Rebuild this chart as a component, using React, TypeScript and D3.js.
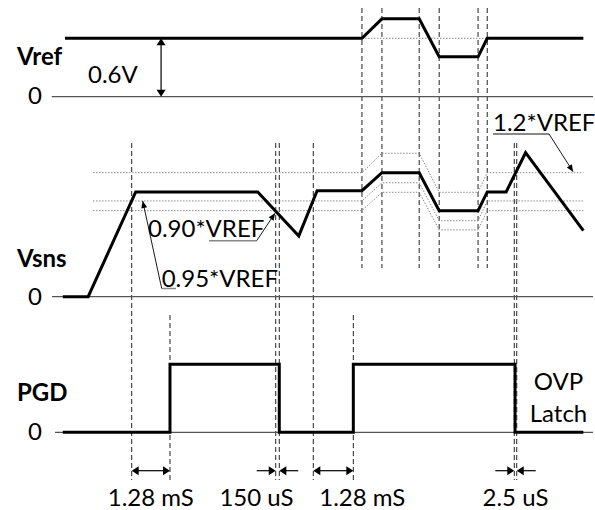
import React from "react";
import * as d3 from "d3";

// ---- data (time in arbitrary units 0..100, voltages in V) ----
const vrefTime = [2.4, 57.4, 61.1, 68.0, 71.7, 78.9, 80.6, 98.4];
const vrefValue = [0.6, 0.6, 0.8, 0.8, 0.41, 0.41, 0.6, 0.6];

const vsnsTime = [2.0, 6.7, 15.5, 38.1, 45.7, 49.1, 57.4, 61.1, 68.0, 71.7, 78.9, 80.6, 84.1, 87.7, 98.4];
const vsnsValue = [0, 0, 0.593, 0.593, 0.344, 0.6, 0.6, 0.702, 0.702, 0.487, 0.487, 0.593, 0.593, 0.815, 0.374];

const thresholdTime = [7.6, 57.4, 61.1, 68.0, 71.7, 78.9, 80.6, 98.4];
const ovp120 = [0.702, 0.702, 0.812, 0.812, 0.591, 0.591, 0.702, 0.702];
const pg95 = [0.542, 0.542, 0.645, 0.645, 0.43, 0.43, 0.542, 0.542];
const pg90 = [0.487, 0.487, 0.591, 0.591, 0.378, 0.378, 0.487, 0.487];

const pgdTime = [2.0, 21.85, 21.85, 42.09, 42.09, 55.8, 55.8, 85.75, 85.75, 98.4];
const pgdValue = [0, 0, 1, 1, 0, 0, 1, 1, 0, 0];

const topMarkers = [57.4, 61.1, 68.0, 71.7, 78.9, 80.6];
const lowerMarkers = [14.76, 41.43, 42.09, 48.39, 85.61, 86.06];
const pgdMarkers = [21.85, 55.8];

const intervalLabels = ["1.28 mS", "150 uS", "1.28 mS", "2.5 uS"];
const intervalStart = [14.76, 41.43, 48.39, 85.61];
const intervalEnd = [21.85, 42.09, 55.8, 86.06];

const W = 595;
const H = 510;
const FONT = "Lato, 'Open Sans', sans-serif";

export default function App() {
  const x = d3.scaleLinear().domain([0, 100]).range([52, 592]);
  const yRef = d3.scaleLinear().domain([0, 0.6]).range([96.7, 38.3]);
  const ySns = d3.scaleLinear().domain([0, 0.6]).range([296.7, 190.7]);
  const yPgd = d3.scaleLinear().domain([0, 1]).range([432.3, 364.3]);

  const mk = (ts: number[], vs: number[], y: d3.ScaleLinear<number, number>) =>
    d3.line<number>().x((_, i) => x(ts[i])).y((_, i) => y(vs[i]))(ts) || "";

  const thick = { fill: "none", stroke: "#000", strokeWidth: 3, strokeLinejoin: "miter" as const };
  const dotted = { fill: "none", stroke: "#8a8a8a", strokeWidth: 1, strokeDasharray: "1.5,1.5" };
  const dashed = { stroke: "#222", strokeWidth: 1, strokeDasharray: "5,3" };
  const zeroLine = { stroke: "#555", strokeWidth: 1.3 };
  const txt = { fontFamily: FONT, fontSize: 24, fill: "#000" };
  const bold = { ...txt, fontWeight: 700 };

  const arrowY = 470.7;
  const labelOffset = [0, -21, 29, 0];

  const headH = (tipX: number, y: number, dir: number, len = 7, half = 4.5) =>
    `M${tipX},${y}L${tipX - dir * len},${y - half}L${tipX - dir * len},${y + half}Z`;
  const headV = (xp: number, tipY: number, dir: number, len = 7, half = 4.5) =>
    `M${xp},${tipY}L${xp - half},${tipY - dir * len}L${xp + half},${tipY - dir * len}Z`;
  const headAt = (fx: number, fy: number, tx: number, ty: number, len = 7, half = 3) => {
    const dx = tx - fx, dy = ty - fy;
    const L = Math.hypot(dx, dy);
    const ux = dx / L, uy = dy / L;
    const bx = tx - ux * len, by = ty - uy * len;
    return `M${tx},${ty}L${bx - uy * half},${by + ux * half}L${bx + uy * half},${by - ux * half}Z`;
  };

  // leader tips on threshold lines
  const tip95 = [x(16.8), ySns(pg95[0])];
  const tip90 = [x(41.3), ySns(pg90[0]) + 2.5];
  const tip120 = [x(96.5), ySns(ovp120[7]) - 1];

  return (
    <svg width={W} height={H} style={{ position: "absolute", left: 0, top: 0, background: "#fff" }}>
      {/* dashed timing markers */}
      {topMarkers.map((t, i) => (
        <line key={"tm" + i} x1={x(t)} x2={x(t)} y1={8} y2={268} {...dashed} />
      ))}
      {lowerMarkers.map((t, i) => (
        <line key={"lm" + i} x1={x(t)} x2={x(t)} y1={143} y2={480} {...dashed} />
      ))}
      {pgdMarkers.map((t, i) => (
        <line key={"pm" + i} x1={x(t)} x2={x(t)} y1={315} y2={480} {...dashed} />
      ))}

      {/* zero lines */}
      <line x1={51.7} x2={593} y1={yRef(0)} y2={yRef(0)} {...zeroLine} />
      <line x1={52} x2={593} y1={ySns(0)} y2={ySns(0)} {...zeroLine} />
      <line x1={55} x2={593} y1={yPgd(0)} y2={yPgd(0)} {...zeroLine} />

      {/* Vref panel */}
      <line x1={x(vrefTime[1])} x2={x(vrefTime[6])} y1={yRef(0.6)} y2={yRef(0.6)} {...dotted} />
      <path d={mk(vrefTime, vrefValue, yRef)} {...thick} />
      <line x1={x(20.2)} x2={x(20.2)} y1={yRef(0.6) + 6} y2={yRef(0) - 6} stroke="#000" strokeWidth={1.2} />
      <path d={headV(x(20.2), yRef(0.6), -1)} fill="#000" />
      <path d={headV(x(20.2), yRef(0), 1)} fill="#000" />
      <text x={17} y={65} {...bold}>Vref</text>
      <text x={88} y={83.3} {...txt}>0.6V</text>
      <text x={28} y={104} {...txt}>0</text>

      {/* Vsns panel */}
      <path d={mk(thresholdTime, ovp120, ySns)} {...dotted} />
      <path d={mk(thresholdTime, pg95, ySns)} {...dotted} />
      <path d={mk(thresholdTime, pg90, ySns)} {...dotted} />
      <path d={mk(vsnsTime, vsnsValue, ySns)} {...thick} />
      <text x={17} y={267} {...bold}>Vsns</text>
      <text x={28} y={305} {...txt}>0</text>

      {/* annotations */}
      <text x={148} y={237} {...txt}>0.90*VREF</text>
      <line x1={209} x2={256.7} y1={240.7} y2={240.7} stroke="#888" strokeWidth={1.5} />
      <line x1={256.7} y1={240.7} x2={tip90[0]} y2={tip90[1]} stroke="#000" strokeWidth={0.9} />
      <path d={headAt(256.7, 240.7, tip90[0], tip90[1])} fill="#000" />

      <text x={161.7} y={287} {...txt}>0.95*VREF</text>
      <line x1={161.7} x2={176} y1={288.5} y2={288.5} stroke="#888" strokeWidth={1.5} />
      <line x1={161.7} y1={288.5} x2={tip95[0]} y2={tip95[1]} stroke="#000" strokeWidth={0.9} />
      <path d={headAt(161.7, 288.5, tip95[0], tip95[1])} fill="#000" />

      <text x={493} y={131} {...txt}>1.2*VREF</text>
      <line x1={493} x2={549} y1={134} y2={134} stroke="#888" strokeWidth={1.8} />
      <line x1={549} y1={134} x2={tip120[0]} y2={tip120[1]} stroke="#000" strokeWidth={0.9} />
      <path d={headAt(549, 134, tip120[0], tip120[1])} fill="#000" />

      {/* PGD panel */}
      <path d={mk(pgdTime, pgdValue, yPgd)} {...thick} />
      <text x={17} y={401} {...bold}>PGD</text>
      <text x={28} y={440} {...txt}>0</text>
      <text x={558.5} y={390} textAnchor="middle" {...txt}>OVP</text>
      <text x={558.5} y={421.7} textAnchor="middle" {...txt}>Latch</text>

      {/* timing intervals */}
      {intervalLabels.map((lab, i) => {
        const a = x(intervalStart[i]);
        const b = x(intervalEnd[i]);
        const inside = b - a > 20;
        const cx = (a + b) / 2 + labelOffset[i];
        return (
          <g key={"iv" + i}>
            {inside ? (
              <>
                <line x1={a + 6} x2={b - 6} y1={arrowY} y2={arrowY} stroke="#000" strokeWidth={1.2} />
                <path d={headH(a, arrowY, -1)} fill="#000" />
                <path d={headH(b, arrowY, 1)} fill="#000" />
              </>
            ) : (
              <>
                <line x1={a - 19} x2={a - 5} y1={arrowY} y2={arrowY} stroke="#000" strokeWidth={1.2} />
                <path d={headH(a, arrowY, 1)} fill="#000" />
                <line x1={b + 5} x2={b + 19} y1={arrowY} y2={arrowY} stroke="#000" strokeWidth={1.2} />
                <path d={headH(b, arrowY, -1)} fill="#000" />
              </>
            )}
            <text x={cx} y={505.5} textAnchor="middle" {...txt}>{lab}</text>
          </g>
        );
      })}
    </svg>
  );
}
